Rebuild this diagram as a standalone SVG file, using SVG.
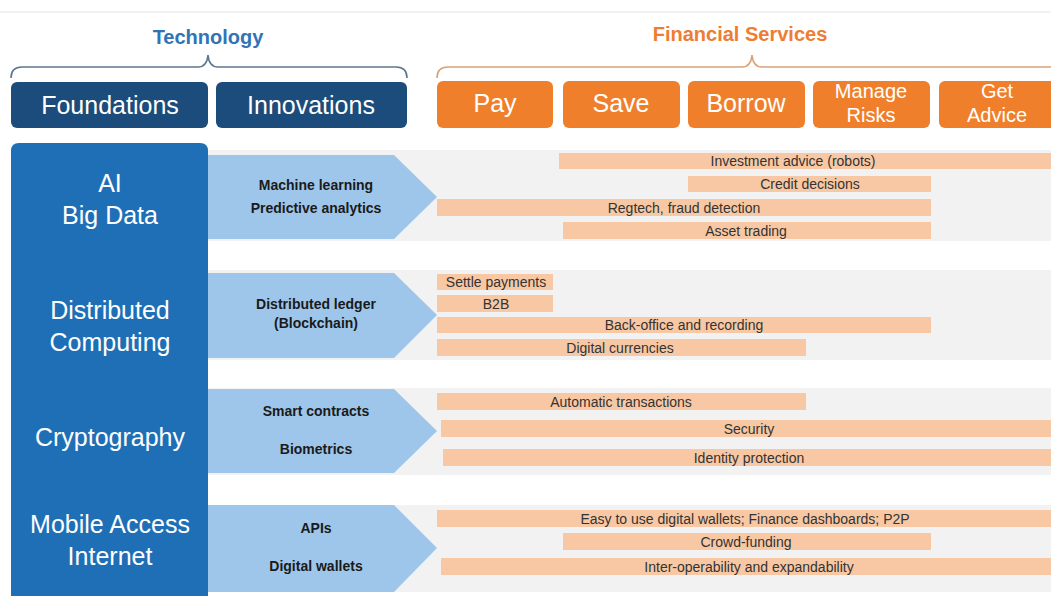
<svg xmlns="http://www.w3.org/2000/svg" width="1051" height="596" viewBox="0 0 1051 596">
<defs>
<style>
.hdr{font-family:"Liberation Sans",Arial,sans-serif;font-size:25px;fill:#fff;text-anchor:middle}
.hdr2{font-family:"Liberation Sans",Arial,sans-serif;font-size:20px;fill:#fff;text-anchor:middle}
.found{font-family:"Liberation Sans",Arial,sans-serif;font-size:25px;fill:#fff;text-anchor:middle}
.inn{font-family:"Liberation Sans",Arial,sans-serif;font-size:14px;font-weight:bold;fill:#1a1a1a;text-anchor:middle}
.bar{fill:#F8C8A4}
.bt{font-family:"Liberation Sans",Arial,sans-serif;font-size:14px;fill:#333;text-anchor:middle}
.band{fill:#F2F2F2}
.arrow{fill:#9DC6EA}
.navy{fill:#1B4C7B}
.orange{fill:#F07F2C}
.brace{fill:none;stroke-width:1.6}
</style>
</defs>
<rect width="1051" height="596" fill="#fff"/>
<line x1="0" y1="12" x2="1051" y2="12" stroke="#e6e6e6" stroke-width="1"/>

<!-- headers -->
<g id="technology">
<text x="208" y="44" font-family="Liberation Sans,Arial,sans-serif" font-size="20" font-weight="bold" fill="#2F75B5" text-anchor="middle">Technology</text>
<path class="brace" stroke="#5B7893" d="M11,78 Q11,67 22,67 L198,67 Q207,67 208,55 Q209,67 218,67 L396,67 Q407,67 407,78"/>
</g>
<g id="financial-services">
<text x="740" y="41" font-family="Liberation Sans,Arial,sans-serif" font-size="20" font-weight="bold" fill="#EE7D31" text-anchor="middle">Financial Services</text>
<path class="brace" stroke="#D9A27A" d="M437,78 Q437,67 448,67 L742,67 Q751,67 752,55 Q753,67 762,67 L1051,67"/>
</g>

<g id="foundations"><rect class="navy" x="11" y="82" width="197" height="46" rx="6"/><text class="hdr" x="110" y="114">Foundations</text></g>
<g id="innovations"><rect class="navy" x="216" y="82" width="191" height="46" rx="6"/><text class="hdr" x="311" y="114">Innovations</text></g>

<g id="pay"><rect class="orange" x="437" y="81" width="116" height="47" rx="6"/><text class="hdr" x="495" y="112">Pay</text></g>
<g id="save"><rect class="orange" x="563" y="81" width="117" height="47" rx="6"/><text class="hdr" x="621" y="112">Save</text></g>
<g id="borrow"><rect class="orange" x="688" y="81" width="117" height="47" rx="6"/><text class="hdr" x="746" y="112">Borrow</text></g>
<g id="manage-risks"><rect class="orange" x="813" y="81" width="117" height="47" rx="6"/><text class="hdr2" x="871" y="98">Manage</text><text class="hdr2" x="871" y="122">Risks</text></g>
<g id="get-advice"><rect class="orange" x="939" y="81" width="120" height="47" rx="6"/><text class="hdr2" x="997" y="98">Get</text><text class="hdr2" x="997" y="122">Advice</text></g>

<!-- bands -->
<rect class="band" x="208" y="150" width="843" height="91"/>
<rect class="band" x="208" y="270" width="843" height="90"/>
<rect class="band" x="208" y="388" width="843" height="87"/>
<rect class="band" x="208" y="505" width="843" height="87"/>

<!-- foundation column -->
<g id="foundation-column">
<path d="M11,151 Q11,143 19,143 L200,143 Q208,143 208,151 L208,596 L11,596 Z" fill="#1F6FB6"/>
<text class="found" x="110" y="192">AI</text>
<text class="found" x="110" y="224">Big Data</text>
<text class="found" x="110" y="319">Distributed</text>
<text class="found" x="110" y="351">Computing</text>
<text class="found" x="110" y="446">Cryptography</text>
<text class="found" x="110" y="533">Mobile Access</text>
<text class="found" x="110" y="565">Internet</text>
</g>

<!-- innovation arrows -->
<g id="innovation-ai">
<polygon class="arrow" points="208,155 394,155 437,197 394,239 208,239"/>
<text class="inn" x="316" y="190">Machine learning</text>
<text class="inn" x="316" y="213">Predictive analytics</text>
</g>
<g id="innovation-dc">
<polygon class="arrow" points="208,273 394,273 437,315 394,358 208,358"/>
<text class="inn" x="316" y="309">Distributed ledger</text>
<text class="inn" x="316" y="328">(Blockchain)</text>
</g>
<g id="innovation-crypto">
<polygon class="arrow" points="208,389 394,389 437,431 394,473 208,473"/>
<text class="inn" x="316" y="416">Smart contracts</text>
<text class="inn" x="316" y="454">Biometrics</text>
</g>
<g id="innovation-mobile">
<polygon class="arrow" points="208,505 394,505 437,548 394,592 208,592"/>
<text class="inn" x="316" y="533">APIs</text>
<text class="inn" x="316" y="571">Digital wallets</text>
</g>

<!-- service bars -->
<g id="bars-ai">
<rect class="bar" x="559" y="153" width="492" height="16"/><text class="bt" x="793" y="166">Investment advice (robots)</text>
<rect class="bar" x="688" y="176" width="243" height="16"/><text class="bt" x="810" y="189">Credit decisions</text>
<rect class="bar" x="437" y="199" width="494" height="17"/><text class="bt" x="684" y="212.5">Regtech, fraud detection</text>
<rect class="bar" x="563" y="222" width="368" height="17"/><text class="bt" x="746" y="235.5">Asset trading</text>
</g>
<g id="bars-dc">
<rect class="bar" x="437" y="274" width="116" height="16"/><text class="bt" x="496" y="287">Settle payments</text>
<rect class="bar" x="437" y="295" width="116" height="17"/><text class="bt" x="496" y="308.5">B2B</text>
<rect class="bar" x="437" y="317" width="494" height="16"/><text class="bt" x="684" y="330">Back-office and recording</text>
<rect class="bar" x="437" y="339" width="369" height="17"/><text class="bt" x="620" y="352.5">Digital currencies</text>
</g>
<g id="bars-crypto">
<rect class="bar" x="437" y="393" width="369" height="17"/><text class="bt" x="621" y="406.5">Automatic transactions</text>
<rect class="bar" x="441" y="420" width="610" height="17"/><text class="bt" x="749" y="433.5">Security</text>
<rect class="bar" x="443" y="449" width="608" height="17"/><text class="bt" x="749" y="462.5">Identity protection</text>
</g>
<g id="bars-mobile">
<rect class="bar" x="437" y="510" width="614" height="17"/><text class="bt" x="745" y="523.5">Easy to use digital wallets; Finance dashboards; P2P</text>
<rect class="bar" x="563" y="533" width="368" height="17"/><text class="bt" x="746" y="546.5">Crowd-funding</text>
<rect class="bar" x="441" y="558" width="610" height="17"/><text class="bt" x="749" y="571.5">Inter-operability and expandability</text>
</g>
<g id="connectors"></g>
</svg>
